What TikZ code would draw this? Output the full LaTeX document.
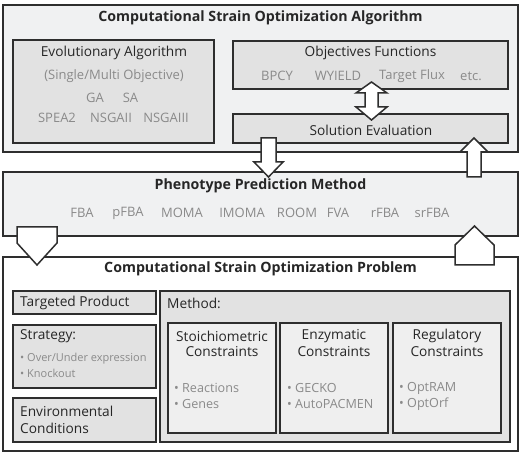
\documentclass[tikz,border=0pt]{standalone}
\usepackage{fontspec}
\setmainfont{Open Sans}
\usepackage{tikz}

\definecolor{edge}{HTML}{2E2E2E}
\definecolor{paleback}{HTML}{F0F1F2}
\definecolor{innerback}{HTML}{E2E2E2}
\definecolor{lightback}{HTML}{EFEFEF}
\definecolor{listgray}{HTML}{8A8A8A}

\begin{document}
\begin{tikzpicture}[x=1pt,y=-1pt]
		\tikzstyle{every node}+=[inner sep=0pt]
		\tikzstyle{outerbox}=[draw=edge, line width=1.8pt]
		\tikzstyle{innerbox}=[draw=edge, line width=1.8pt, fill=innerback]
		\tikzstyle{constbox}=[draw=edge, line width=2.2pt, fill=lightback]
		\tikzstyle{blockarrow}=[draw=edge, line width=1.5pt, fill=white, line join=miter]
		\tikzstyle{headline}=[font=\fontsize{14.2}{16}\selectfont\bfseries, text=black!85]
		\tikzstyle{label}=[font=\fontsize{13.7}{16}\selectfont, text=black!85]
		\tikzstyle{item}=[font=\fontsize{13}{15}\selectfont, text=listgray]
		\tikzstyle{smallitem}=[font=\fontsize{11}{13}\selectfont, text=listgray, anchor=west]
		\tikzstyle{constitem}=[font=\fontsize{12.6}{15}\selectfont, text=listgray, anchor=west]
		\useasboundingbox (0,0) rectangle (523,457);
		% algorithm block
		\draw [outerbox, fill=paleback] (3,5) rectangle (518,152);
		\node [headline] (algtitle) at (260.5,18) {Computational Strain Optimization Algorithm};
		\draw [innerbox] (13,40) rectangle (214,143);
		\node [label] (ea) at (114,53) {Evolutionary Algorithm};
		\node [item] (eatype) at (114,76) {(Single/Multi Objective)};
		\node [item] (ga) at (95,98) {GA};
		\node [item] (sa) at (130.5,98) {SA};
		\node [item] (spea) at (57,118) {SPEA2};
		\node [item] (nsga2) at (111,118) {NSGAII};
		\node [item] (nsga3) at (166,118) {NSGAIII};
		\draw [innerbox] (233,41) rectangle (508,89);
		\node [label] (obj) at (370.5,53) {Objectives Functions};
		\node [item] (bpcy) at (277,76) {BPCY};
		\node [item] (wyield) at (338,76) {WYIELD};
		\node [item] (tflux) at (412,76) {Target Flux};
		\node [item] (etc) at (471,76) {etc.};
		\draw [innerbox] (233,114) rectangle (508,143);
		\node [label] (eval) at (371,130) {Solution Evaluation};
		% phenotype block
		\draw [outerbox, fill=paleback] (3,172) rectangle (518,236);
		\node [headline] (phtitle) at (260.5,186) {Phenotype Prediction Method};
		\node [item] (fba) at (82,213) {FBA};
		\node [item] (pfba) at (128,213) {pFBA};
		\node [item] (moma) at (182,213) {MOMA};
		\node [item] (imoma) at (242,213) {IMOMA};
		\node [item] (room) at (297,213) {ROOM};
		\node [item] (fva) at (338,213) {FVA};
		\node [item] (rfba) at (385,213) {rFBA};
		\node [item] (srfba) at (432,213) {srFBA};
		% problem block
		\draw [outerbox, fill=white] (3,257) rectangle (518,451);
		\node [headline] (probtitle) at (260.5,269) {Computational Strain Optimization Problem};
		\draw [innerbox] (13,291) rectangle (156,314);
		\node [label, anchor=west] (target) at (20,303) {Targeted Product};
		\draw [innerbox] (13,325) rectangle (156,388);
		\node [label, anchor=west] (strat) at (20,336) {Strategy:};
		\node [smallitem] (overunder) at (20,359) {\textbullet\ Over/Under expression};
		\node [smallitem] (knock) at (20,373) {\textbullet\ Knockout};
		\draw [innerbox] (13,398) rectangle (156,442);
		\node [label, anchor=west] (env1) at (20,411) {Environmental};
		\node [label, anchor=west] (env2) at (20,428) {Conditions};
		\draw [innerbox] (160,291) rectangle (510,442);
		\node [label, anchor=west] (method) at (167,303) {Method:};
		\draw [constbox] (168,323) rectangle (276,433);
		\node [label] (stoich1) at (222,336) {Stoichiometric};
		\node [label] (stoich2) at (222,352) {Constraints};
		\node [constitem] (reac) at (174,388) {\textbullet\ Reactions};
		\node [constitem] (genes) at (174,404) {\textbullet\ Genes};
		\draw [constbox] (280,323) rectangle (388,433);
		\node [label] (enz1) at (334,336) {Enzymatic};
		\node [label] (enz2) at (334,352) {Constraints};
		\node [constitem] (gecko) at (287,388) {\textbullet\ GECKO};
		\node [constitem] (pacmen) at (287,404) {\textbullet\ AutoPACMEN};
		\draw [constbox] (393,323) rectangle (501,433);
		\node [label] (reg1) at (447,336) {Regulatory};
		\node [label] (reg2) at (447,352) {Constraints};
		\node [constitem] (optram) at (399,388) {\textbullet\ OptRAM};
		\node [constitem] (optorf) at (399,404) {\textbullet\ OptOrf};
		% block arrows
		\draw [blockarrow] (371.5,82) -- (387,93) -- (378,93) -- (378,107) -- (387,107) -- (371.5,120)
			-- (356,107) -- (365,107) -- (365,93) -- (356,93) -- cycle;
		\draw [blockarrow] (261,138) -- (276,138) -- (276,162) -- (283,162) -- (268.5,177) -- (254,162) -- (261,162) -- cycle;
		\draw [blockarrow] (467,177) -- (481,177) -- (481,152) -- (488,152) -- (474,138) -- (460,152) -- (467,152) -- cycle;
		\draw [blockarrow] (17,227) -- (57,227) -- (57,243) -- (37,265) -- (17,243) -- cycle;
		\draw [blockarrow] (455,265) -- (494,265) -- (494,245) -- (474.5,226) -- (455,245) -- cycle;
	\end{tikzpicture}
\end{document}
